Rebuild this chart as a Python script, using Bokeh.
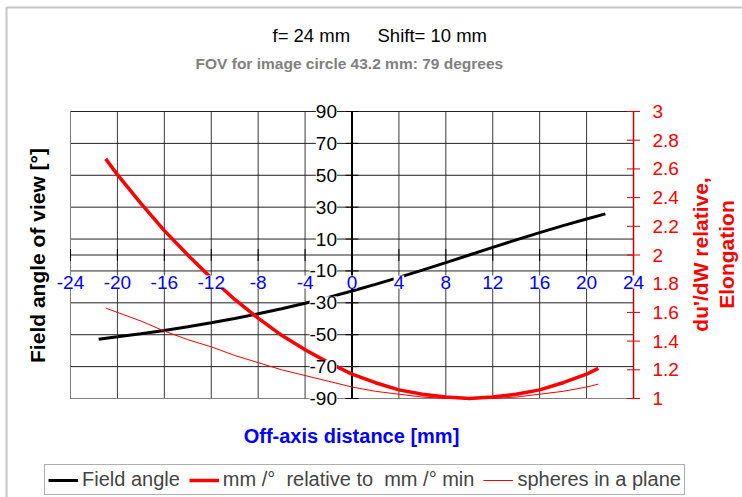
import math
from bokeh.plotting import figure
from bokeh.models import (Range1d, Label, LabelSet, BoxAnnotation,
                          ColumnDataSource, Legend, LegendItem)
from bokeh.core.properties import value
from bokeh.embed import file_html
from bokeh.resources import INLINE

# ---------------- data ----------------
title_left = "f= 24 mm"
title_right = "Shift= 10 mm"
subtitle = "FOV for image circle 43.2 mm:  79 degrees"
x_label = "Off-axis distance [mm]"
y_label = "Field angle of view [°]"
y2_label_1 = "du'/dW relative,"
y2_label_2 = "Elongation"
legend_labels = ["Field angle", "mm /°  relative to  mm /° min", "spheres in a plane"]

x_ticks = [-24, -20, -16, -12, -8, -4, 0, 4, 8, 12, 16, 20, 24]
x_tick_labels = ["-24", "-20", "-16", "-12", "-8", "-4", "0", "4", "8", "12", "16", "20", "24"]
y_ticks = [90, 70, 50, 30, 10, -10, -30, -50, -70, -90]
y_tick_labels = ["90", "70", "50", "30", "10", "-10", "-30", "-50", "-70", "-90"]
y2_ticks = [1.0, 1.2, 1.4, 1.6, 1.8, 2.0, 2.2, 2.4, 2.6, 2.8, 3.0]
y2_tick_labels = ["1", "1.2", "1.4", "1.6", "1.8", "2", "2.2", "2.4", "2.6", "2.8", "3"]

# Field angle (left axis, degrees)
angle_x = [-21.6, -20, -18, -16, -14, -12, -10, -8, -6, -4, -2, 0,
           2, 4, 6, 8, 10, 12, 14, 16, 18, 20, 21.6]
angle_deg = [-52.8, -51.3, -49.4, -47.3, -45.0, -42.5, -39.8, -36.9, -33.7, -30.3, -26.6, -22.6,
             -18.4, -14.0, -9.5, -4.8, 0.0, 4.8, 9.5, 14.0, 18.4, 22.6, 25.8]

# mm/deg relative to minimum, and elongation (right axis)
ratio_x = [-21, -20, -18, -16, -14, -12, -10, -8, -6, -4, -2, 0,
           2, 4, 6, 8, 10, 12, 14, 16, 18, 20, 21]
ratio_rel = [2.67, 2.56, 2.36, 2.17, 2.00, 1.84, 1.69, 1.56, 1.44, 1.34, 1.25, 1.17,
             1.11, 1.06, 1.03, 1.01, 1.00, 1.01, 1.03, 1.06, 1.11, 1.17, 1.21]
elongation = [1.63, 1.60, 1.54, 1.47, 1.41, 1.36, 1.30, 1.25, 1.20, 1.16, 1.12, 1.08,
              1.05, 1.03, 1.01, 1.00, 1.00, 1.00, 1.01, 1.03, 1.05, 1.08, 1.10]

# ---------------- layout (pixels) ----------------
FONT = "Liberation Sans"
W, H = 742, 497
PL, PR, PT, PB = 70, 633, 111, 398          # plot-area box in the canvas
XMIN, XMAX = x_ticks[0], x_ticks[-1]
YMIN, YMAX = y_ticks[-1], y_ticks[0]
Y2MIN, Y2MAX = y2_ticks[0], y2_ticks[-1]

sx = (PR - PL) / (XMAX - XMIN)
sy = (PB - PT) / (YMAX - YMIN)
sy2 = (PB - PT) / (Y2MAX - Y2MIN)
x_range = Range1d(XMIN - PL / sx, XMAX + (W - PR) / sx)
y_range = Range1d(YMIN - (H - PB) / sy, YMAX + PT / sy)
y2_range = Range1d(Y2MIN - (H - PB) / sy2, Y2MAX + PT / sy2)

def X(px):
    return x_range.start + px / sx

def Y(py):
    return y_range.end - py / sy

p = figure(width=W, height=H, x_range=x_range, y_range=y_range,
           x_axis_location=None, y_axis_location=None,
           toolbar_location=None, output_backend="svg", min_border=0)
p.extra_y_ranges = {"r": y2_range}
p.background_fill_color = "white"
p.border_fill_color = "white"
p.outline_line_color = None
p.xgrid.visible = False
p.ygrid.visible = False

# outer chart-area border (left and top visible)
p.add_layout(BoxAnnotation(left=X(6), right=X(W + 50), top=Y(7), bottom=Y(H + 50),
                           fill_alpha=0, line_color="#404040", line_width=2))

# grid lines
nx, ny = len(x_ticks), len(y_ticks)
p.segment(x0=x_ticks, y0=[YMIN] * nx, x1=x_ticks, y1=[YMAX] * nx,
          line_color="#3a3a3a", line_width=1)
hy = y_ticks + [0]
p.segment(x0=[XMIN] * len(hy), y0=hy, x1=[XMAX] * len(hy), y1=hy,
          line_color="#222222", line_width=1)
# plot-area border (left and bottom grey)
p.segment(x0=[XMIN, XMIN], y0=[YMIN, YMIN], x1=[XMIN, XMAX], y1=[YMAX, YMIN],
          line_color="#808080", line_width=1)

# central value axis at x = 0 and category axis at y = 0
p.segment(x0=[0], y0=[YMIN], x1=[0], y1=[YMAX], line_color="black", line_width=2)
p.scatter(x=[0] * ny, y=y_ticks, marker="dash", size=13, line_color="black", line_width=1)
p.scatter(x=x_ticks, y=[0] * nx, marker="dash", angle=math.pi / 2, size=12,
          line_color="black", line_width=1)

# data lines
r_angle = p.line(angle_x, angle_deg, line_color="black", line_width=3)
r_ratio = p.line(ratio_x, ratio_rel, y_range_name="r", line_color="#FF0000", line_width=3.5)
r_elong = p.line(ratio_x, elongation, y_range_name="r", line_color="#FF0000", line_width=1)

# right (secondary) axis
p.segment(x0=[XMAX], y0=[Y2MIN], x1=[XMAX], y1=[Y2MAX], y_range_name="r",
          line_color="#C00000", line_width=1.5)
p.scatter(x=[XMAX] * len(y2_ticks), y=y2_ticks, y_range_name="r", marker="dash", size=13,
          line_color="#E00000", line_width=1)
r2src = ColumnDataSource(dict(x=[XMAX] * len(y2_ticks), y=y2_ticks, text=y2_tick_labels))
p.add_layout(LabelSet(x="x", y="y", text="text", source=r2src, y_range_name="r", x_offset=19,
                      text_align="left", text_baseline="middle", text_color="#FF0000",
                      text_font=value(FONT), text_font_size="19px", level="overlay"))

# tick labels on white boxes
ysrc = ColumnDataSource(dict(x=[0] * ny, y=y_ticks, text=y_tick_labels))
p.add_layout(LabelSet(x="x", y="y", text="text", source=ysrc, x_offset=-15,
                      text_align="right", text_baseline="middle", text_color="black",
                      text_font=value(FONT), text_font_size="19px",
                      background_fill_color="white", level="overlay"))
xsrc = ColumnDataSource(dict(x=x_ticks, y=[0] * nx, text=x_tick_labels))
p.add_layout(LabelSet(x="x", y="y", text="text", source=xsrc, y_offset=-27,
                      text_align="center", text_baseline="middle", text_color="#0000FF",
                      text_font=value(FONT), text_font_size="19px",
                      background_fill_color="white", level="overlay"))

# titles and axis titles
def lab(text, px, py, **kw):
    p.add_layout(Label(text=text, x=X(px), y=Y(py), text_font=FONT,
                       text_baseline="middle", **kw))

lab(title_left, 272, 35, text_align="left", text_font_size="18.5px", text_color="black")
lab(title_right, 377, 35, text_align="left", text_font_size="18.5px", text_color="black")
lab(subtitle, 351, 63, text_align="center", text_font_size="15.5px",
    text_font_style="bold", text_color="#808080")
lab(y_label, 37, 255, angle=math.pi / 2, text_align="center",
    text_font_size="21px", text_font_style="bold", text_color="black")
lab(y2_label_1, 700, 254, angle=math.pi / 2, text_align="center",
    text_font_size="21px", text_font_style="bold", text_color="#FF0000")
lab(y2_label_2, 726, 254, angle=math.pi / 2, text_align="center",
    text_font_size="21px", text_font_style="bold", text_color="#FF0000")
lab(x_label, 351, 435, text_align="center",
    text_font_size="20px", text_font_style="bold", text_color="#0000FF")

# legend
legend = Legend(items=[LegendItem(label=legend_labels[0], renderers=[r_angle]),
                       LegendItem(label=legend_labels[1], renderers=[r_ratio]),
                       LegendItem(label=legend_labels[2], renderers=[r_elong])],
                orientation="horizontal", location=(44, 2),
                border_line_color="#606060", border_line_width=1,
                background_fill_color="white", background_fill_alpha=1,
                label_text_font=FONT, label_text_font_size="20px",
                glyph_width=30, glyph_height=20, label_height=20,
                label_standoff=4, spacing=9, padding=3, margin=0)
p.add_layout(legend)

open("out.html", "w").write(file_html(p, INLINE))
